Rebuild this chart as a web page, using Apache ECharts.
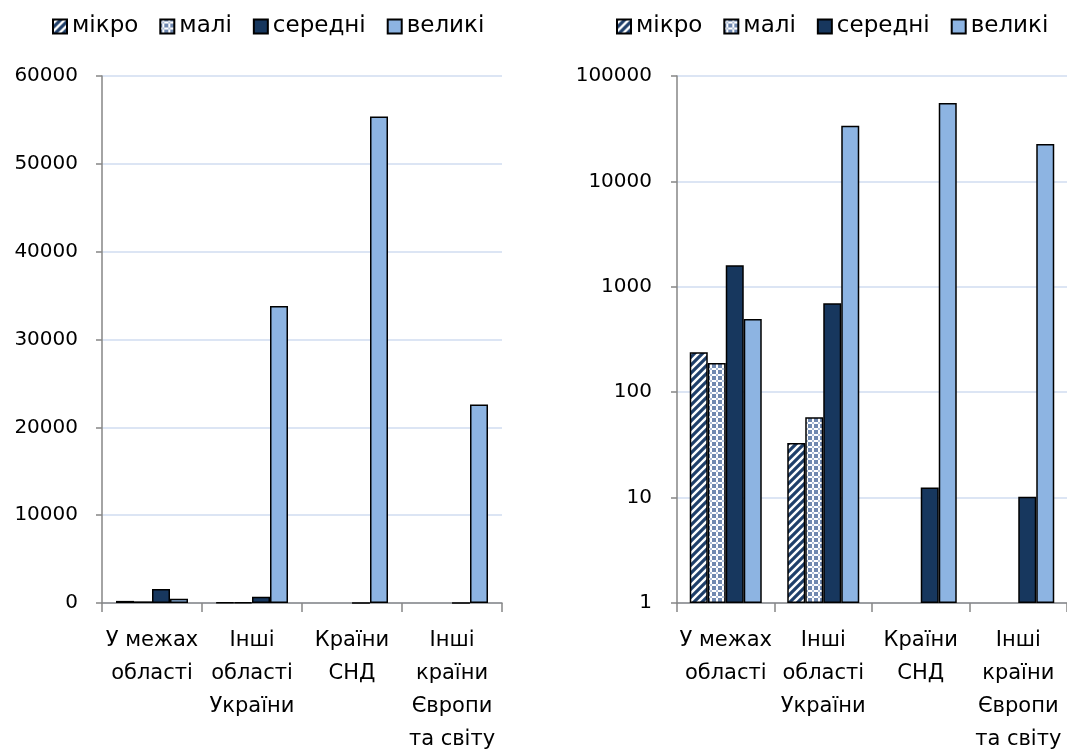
<!DOCTYPE html>
<html>
<head>
<meta charset="utf-8">
<script src="https://cdn.jsdelivr.net/npm/echarts@6/dist/echarts.min.js"></script>
<style>
html,body{margin:0;padding:0;background:#fff;}
#c{width:1067px;height:749px;}
</style>
</head>
<body>
<div id="c"></div>
<script>
// ---- data ----
const categories = ['У межах\nобласті', 'Інші\nобласті\nУкраїни', 'Країни\nСНД', 'Інші\nкраїни\nЄвропи\nта світу'];
const seriesNames = ['мікро', 'малі', 'середні', 'великі'];
const micro  = [240, 33, null, null];
const small  = [189, 58, null, null];
const medium = [1600, 700, 12.5, 10.2];
const large  = [495, 33800, 55400, 22600];
const linearTicks = [0, 10000, 20000, 30000, 40000, 50000, 60000];
const logTicks = [1, 10, 100, 1000, 10000, 100000];

// ---- patterns ----
function stripePattern() {
  const s = 8, c = document.createElement('canvas');
  c.width = s; c.height = s;
  const g = c.getContext('2d');
  g.fillStyle = '#ffffff'; g.fillRect(0, 0, s, s);
  g.strokeStyle = '#1F3F6A'; g.lineWidth = 3.2;
  g.beginPath();
  g.moveTo(-1, s + 1); g.lineTo(s + 1, -1);
  g.moveTo(-s / 2 - 1, s / 2 + 1); g.lineTo(s / 2 + 1, -s / 2 - 1);
  g.moveTo(s / 2 - 1, s * 1.5 + 1); g.lineTo(s * 1.5 + 1, s / 2 - 1);
  g.stroke();
  return c;
}
function checkPattern() {
  const s = 6, c = document.createElement('canvas');
  c.width = s; c.height = s;
  const g = c.getContext('2d');
  g.fillStyle = '#6F88B0'; g.fillRect(0, 0, s, s);
  g.fillStyle = '#ffffff';
  g.fillRect(2, 0, 2, s);
  g.fillRect(0, 2, s, 2);
  g.fillStyle = '#AFC0DA';
  g.fillRect(2, 2, 2, 2);
  return c;
}
const colors = [
  { image: stripePattern(), repeat: 'repeat' },
  { image: checkPattern(), repeat: 'repeat' },
  '#17375E',
  '#8DB4E2'
];
const values = [micro, small, medium, large];

const FONT = 'DejaVu Sans';
const chart = echarts.init(document.getElementById('c'), null, { renderer: 'canvas' });

function makeSeries(gridIndex) {
  return seriesNames.map((n, i) => ({
    name: n,
    type: 'bar',
    xAxisIndex: gridIndex,
    yAxisIndex: gridIndex,
    data: values[i],
    barWidth: 18,
    barGap: '0%',
    itemStyle: { color: colors[i], borderColor: '#000', borderWidth: 1.5 },
    emphasis: { disabled: true },
    animation: false
  }));
}

function xAxis(gridIndex) {
  return {
    type: 'category', gridIndex, data: categories,
    axisLine: { lineStyle: { color: '#868686', width: 1.5 } },
    axisTick: { show: true, length: 9, lineStyle: { color: '#868686', width: 1.5 } },
    axisLabel: { color: '#000', fontFamily: FONT, fontSize: 21, lineHeight: 33, margin: 21, interval: 0 },
    splitLine: { show: false }
  };
}

function legend(left) {
  return {
    data: seriesNames, left, top: 10, itemWidth: 14, itemHeight: 14, itemGap: 21,
    textStyle: { fontFamily: FONT, fontSize: 23, color: '#000' },
    icon: 'rect', selectedMode: false
  };
}

const option = {
  backgroundColor: '#fff',
  animation: false,
  textStyle: { fontFamily: FONT },
  legend: [legend(47), legend(611)],
  grid: [
    { left: 102, right: 565, top: 76, bottom: 146, outerBoundsMode: 'none' },
    { left: 677, right: 0, top: 76, bottom: 146, outerBoundsMode: 'none' }
  ],
  xAxis: [xAxis(0), xAxis(1)],
  yAxis: [
    {
      type: 'value', gridIndex: 0, min: linearTicks[0], max: linearTicks[linearTicks.length - 1], interval: 10000,
      axisLine: { show: true, lineStyle: { color: '#868686', width: 1.5 } },
      axisTick: { show: true, length: 6, lineStyle: { color: '#868686', width: 1.5 } },
      axisLabel: { color: '#000', fontFamily: FONT, fontSize: 20, margin: 24, formatter: v => String(v) },
      splitLine: { lineStyle: { color: '#D0DCF0', width: 1.5 } }
    },
    {
      type: 'log', logBase: 10, gridIndex: 1, min: logTicks[0], max: logTicks[logTicks.length - 1],
      axisLine: { show: true, lineStyle: { color: '#868686', width: 1.5 } },
      axisTick: { show: true, length: 6, lineStyle: { color: '#868686', width: 1.5 } },
      axisLabel: { color: '#000', fontFamily: FONT, fontSize: 20, margin: 25, formatter: v => String(Math.round(v)) },
      minorTick: { show: false },
      splitLine: { lineStyle: { color: '#D0DCF0', width: 1.5 } }
    }
  ],
  series: [...makeSeries(0), ...makeSeries(1)]
};
chart.setOption(option);
</script>
</body>
</html>
